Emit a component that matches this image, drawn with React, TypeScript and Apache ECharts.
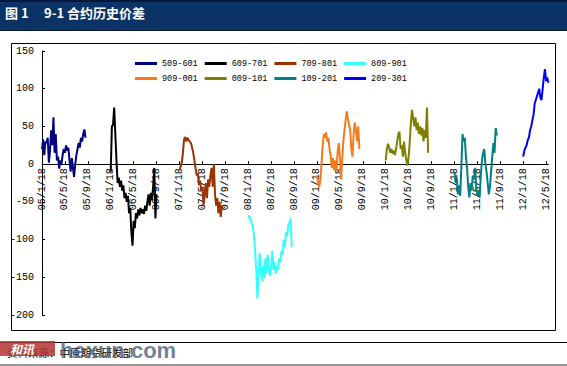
import React, { useEffect, useRef } from "react";
import * as echarts from "echarts";

// x axis: months counted from 2005-01-18; each series sampled every 0.2 month
const xTickLabels = [
  "05/1/18", "05/5/18", "05/9/18", "06/1/18", "06/5/18", "06/9/18",
  "07/1/18", "07/5/18", "07/9/18", "08/1/18", "08/5/18", "08/9/18",
  "09/1/18", "09/5/18", "09/9/18", "10/1/18", "10/5/18", "10/9/18",
  "11/1/18", "11/5/18", "11/9/18", "12/1/18", "12/5/18",
];
const sampleStep = 0.2;

const names = ["509-601", "609-701", "709-801", "809-901", "909-001", "009-101", "109-201", "209-301"];
const startMonths = [0, 12, 24, 36, 48, 60, 72, 84];
const colors = ["#000080", "#000000", "#993300", "#33FFFF", "#F47A1A", "#808000", "#008080", "#0000FF"];

const s509_601 = [20, 33, 12, 30, 28, 35, 2, 18, 45, 25, 62, 15, 40, 5, 10, -6, 5, 0, 12, 20, 15, 25, 18, 22, 5, -10, 8, -5, -17, 0, 12, 20, 28, 22, 35, 30, 40, 46, 35];
const s609_701 = [-10, 50, 52, 75, 40, 5, -25, -18, -30, -22, -35, -28, -45, -38, -50, -42, -65, -58, -90, -108, -75, -85, -65, -72, -60, -68, -58, -65, -60, -66, -55, -62, -50, -40, -55, -38, -48, -30, -5, -72, -40];
const s709_801 = [-8, -3, 2, 15, 33, 36, 30, 35, 32, 30, 28, 22, 15, 5, -5, -15, -12, -28, -22, -35, -30, -55, -40, -25, -45, -20, -30, -15, -5, -30, 0, -40, -55, -45, -65, -50, -70, -55, -60];
const s809_901 = [-72, -68, -75, -78, -82, -95, -115, -140, -178, -150, -118, -140, -155, -135, -150, -125, -145, -120, -140, -148, -135, -115, -140, -130, -145, -135, -140, -125, -130, -115, -120, -100, -110, -90, -95, -80, -78, -72, -110];
const s909_001 = [-15, -25, -30, -20, 0, 25, 40, 35, 42, 30, 35, 20, 10, -5, 8, -8, 5, -10, 15, 28, 10, -20, 5, 30, 45, 58, 70, 60, 52, 45, 20, 10, 40, 55, 45, 30, 50, 20];
const s009_101 = [5, 20, 27, 22, 15, 20, 14, 18, 12, 20, 30, 40, 43, 20, 25, 10, 30, 15, 5, -2, 10, 30, 55, 72, 60, 50, 62, 45, 55, 40, 50, 38, 48, 30, 45, 35, 75, 15];
const s109_201 = [-10, -25, -18, -40, -28, -42, -5, 40, 30, 35, 10, -5, -30, -44, -25, -35, -15, -20, -5, -30, -42, -35, -44, -15, 5, 15, 20, 0, -10, -25, -40, -30, -10, 10, 28, 15, 48, 38];
const s209_301 = [10, 18, 22, 25, 32, 35, 45, 50, 58, 65, 80, 85, 90, 95, 100, 88, 85, 100, 115, 126, 110, 115, 108];

const seriesValues = [s509_601, s609_701, s709_801, s809_901, s909_001, s009_101, s109_201, s209_301];

const yMin = -200;
const yMax = 150;
const yStep = 50;

const gridTop = 51;
const gridBottom = 51;
const chartH = 366;

export default function App() {
  const ref = useRef<HTMLDivElement>(null);
  useEffect(() => {
    if (!ref.current) return;
    const chart = echarts.init(ref.current, null, { renderer: "svg" });
    const plotH = chartH - gridTop - gridBottom;
    const zeroFromBottom = (0 - yMin) / (yMax - yMin) * plotH;
    const series = names.map((name, k) => ({
      name,
      type: "line",
      showSymbol: false,
      symbol: "none",
      clip: false,
      color: colors[k],
      lineStyle: { width: 2, color: colors[k] },
      data: seriesValues[k].map((v, i) => [startMonths[k] + i * sampleStep, v]),
    }));
    const legendCommon = {
      left: 135,
      icon: "rect",
      itemWidth: 22,
      itemHeight: 3,
      itemGap: 7,
      padding: 0,
      textStyle: { fontFamily: "Liberation Mono", fontSize: 8.5, color: "#000" },
    };
    chart.setOption({
      animation: false,
      backgroundColor: "#fff",
      grid: { left: 42, right: 18.6, top: gridTop, bottom: gridBottom, containLabel: false },
      legend: [
        { ...legendCommon, top: 59, data: names.slice(0, 4) },
        { ...legendCommon, top: 74, data: names.slice(4) },
      ],
      xAxis: {
        type: "value",
        min: 0,
        max: 88.4,
        interval: 4,
        offset: -zeroFromBottom,
        splitLine: { show: false },
        axisLine: { onZero: false, lineStyle: { color: "#000", width: 1 } },
        axisTick: { inside: true, length: 3, lineStyle: { color: "#000" } },
        axisLabel: {
          rotate: 90,
          margin: 4,
          showMaxLabel: false,
          fontFamily: "Liberation Mono",
          fontSize: 10,
          color: "#000",
          formatter: (v: number) => {
            const idx = v / 4;
            return Number.isInteger(idx) && xTickLabels[idx] ? xTickLabels[idx] : "";
          },
        },
      },
      yAxis: {
        type: "value",
        min: yMin,
        max: yMax,
        interval: yStep,
        splitLine: { show: false },
        axisLine: { show: true, onZero: false, lineStyle: { color: "#000", width: 1 } },
        axisTick: { show: true, inside: true, length: 3, lineStyle: { color: "#000" } },
        axisLabel: { margin: 8, fontFamily: "Liberation Mono", fontSize: 10, color: "#000" },
      },
      graphic: [
        { type: "rect", shape: { x: 0, y: 0, width: 567, height: 30 }, style: { fill: "#0c3366" }, silent: true },
        { type: "rect", shape: { x: 0, y: 0, width: 567, height: 2 }, style: { fill: "#06183a" }, silent: true },
        { type: "line", shape: { x1: 0, y1: 30.5, x2: 567, y2: 30.5 }, style: { stroke: "#0a1a30", lineWidth: 1 }, silent: true },
        {
          type: "text", x: 5, y: 12,
          style: { text: "图 1", fill: "#fff", font: "bold 13px 'Noto Sans CJK SC'", verticalAlign: "middle" },
        },
        {
          type: "text", x: 44, y: 12,
          style: { text: "9-1 合约历史价差", fill: "#fff", font: "bold 13px 'Noto Sans CJK SC'", verticalAlign: "middle" },
        },
        {
          type: "rect", shape: { x: 11.5, y: 43.5, width: 544, height: 287 },
          style: { fill: "none", stroke: "#000", lineWidth: 1 }, silent: true, z: -1,
        },
        { type: "line", shape: { x1: 0, y1: 342.5, x2: 567, y2: 342.5 }, style: { stroke: "#000", lineWidth: 1 }, silent: true },
        { type: "line", shape: { x1: 0, y1: 365, x2: 567, y2: 365 }, style: { stroke: "#999", lineWidth: 2 }, silent: true },
        {
          type: "text", x: 7, y: 352,
          style: { text: "资料来源：中原期货研发部", fill: "#000", font: "10.5px 'Noto Sans CJK SC'", verticalAlign: "middle" },
        },
        { type: "rect", shape: { x: 0, y: 341, width: 55, height: 15 }, style: { fill: "rgba(180,50,50,0.85)" }, silent: true },
        {
          type: "text", x: 10, y: 348.5,
          style: { text: "和讯", fill: "#fff", font: "italic bold 12px 'Noto Sans CJK SC'", verticalAlign: "middle" },
        },
        {
          type: "text", x: 60, y: 350,
          style: { text: "hexun.com", fill: "rgba(70,85,120,0.75)", font: "bold 22px 'Liberation Sans'", verticalAlign: "middle" },
        },
      ],
      series,
    });
    return () => chart.dispose();
  }, []);
  return <div ref={ref} style={{ position: "fixed", left: 0, top: 0, width: 567, height: 366 }} />;
}
